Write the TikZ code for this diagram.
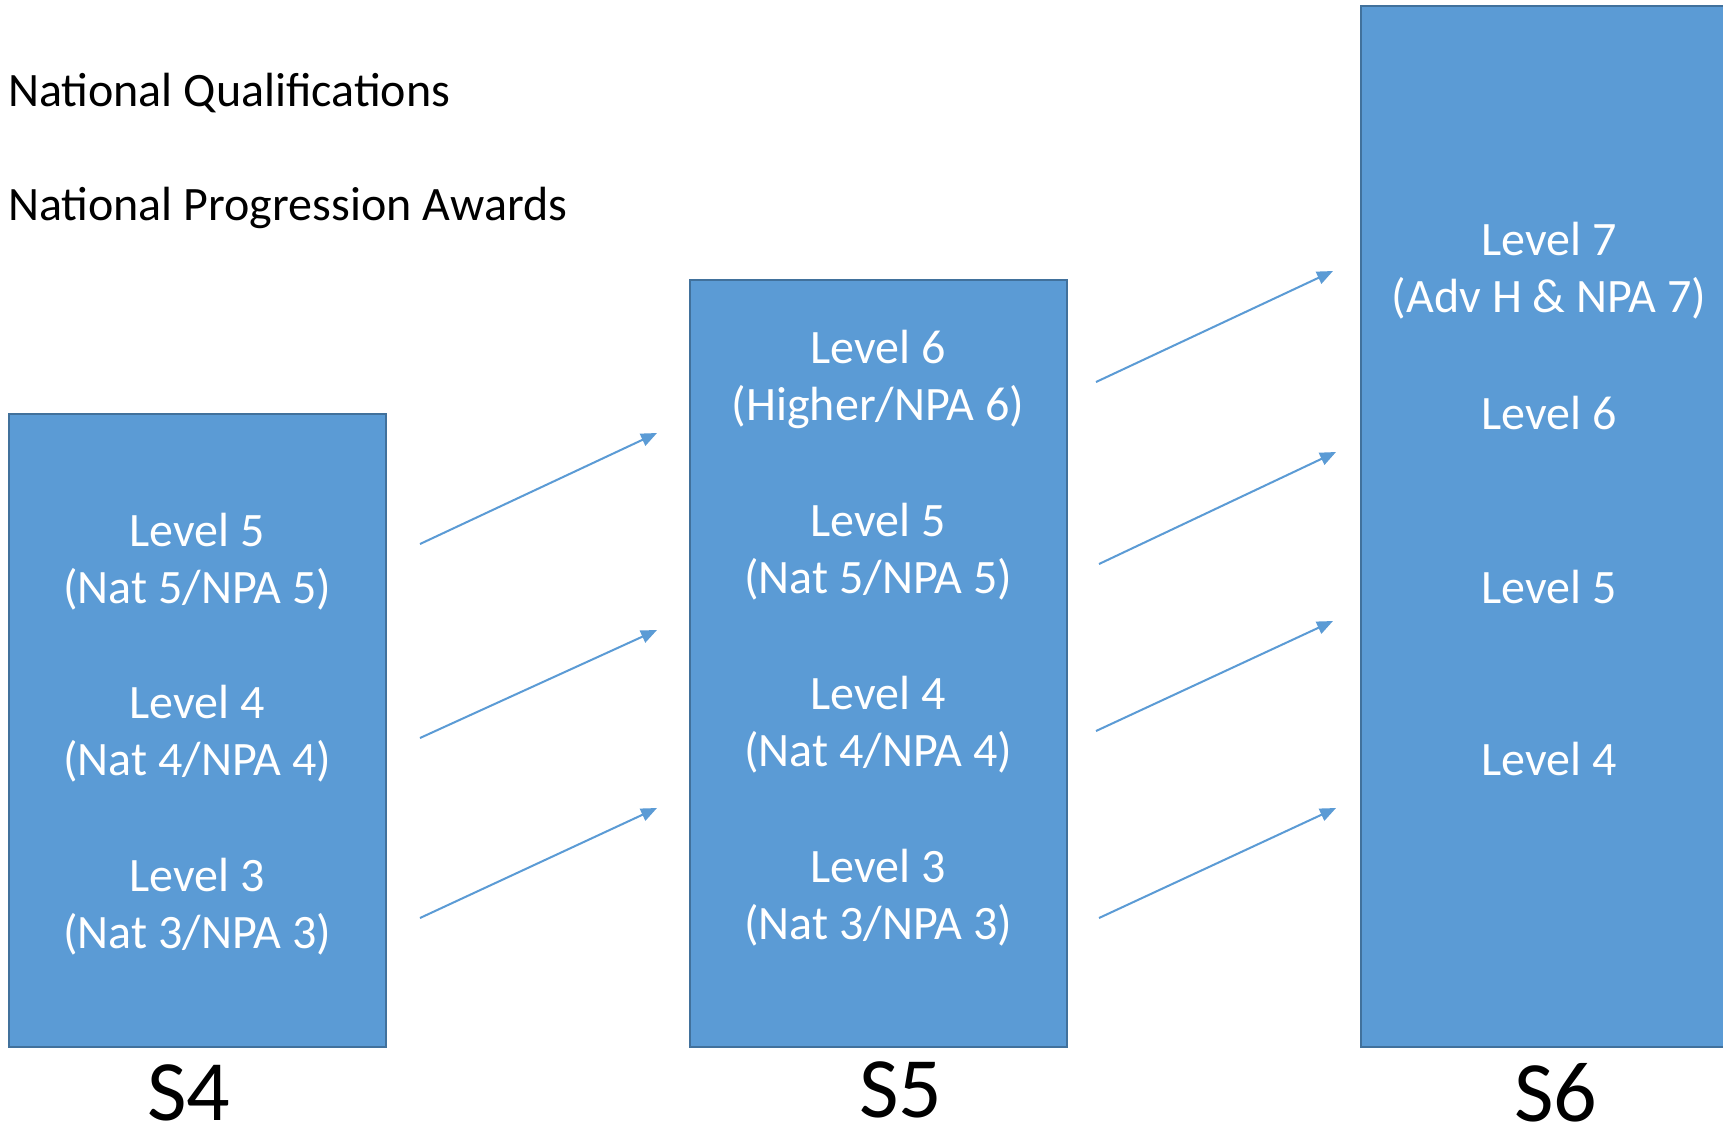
\documentclass[tikz,border=0pt]{standalone}
\usepackage{fontspec}
\setmainfont{Carlito}
\usetikzlibrary{arrows.meta}
\definecolor{boxfill}{HTML}{5B9BD5}
\definecolor{boxline}{HTML}{41719C}
\tikzset{
  yearbox/.style={draw=boxline, line width=2.5pt, fill=boxfill, inner sep=0pt},
  lvl/.style={text=white, align=center, font=\fontsize{48}{57}\selectfont},
  title/.style={anchor=west, font=\fontsize{48}{57}\selectfont, inner sep=0pt},
  yr/.style={font=\fontsize{86}{90}\selectfont, inner sep=0pt},
  prog/.style={draw=boxfill, line width=2pt, -{Triangle[length=16pt,width=13pt]}}
}
\begin{document}
\begin{tikzpicture}[x=1pt,y=-1pt]
\useasboundingbox[fill=white] (0,0) rectangle (1723,1128);
% boxes
\node[yearbox, minimum width=377pt, minimum height=633pt] (s4) at (197.5,730.5) {};
\node[yearbox, minimum width=377pt, minimum height=767pt] (s5) at (878.5,663.5) {};
\node[yearbox, minimum width=390pt, minimum height=1041pt] (s6) at (1556,526.5) {};
% titles
\node[title] (nq) at (8,93) {National Qualifications};
\node[title] (npa) at (8,208) {National Progression Awards};
% S4 levels
\node[lvl] (a5) at (197,562) {Level 5\\(Nat 5/NPA 5)};
\node[lvl] (a4) at (197,734) {Level 4\\(Nat 4/NPA 4)};
\node[lvl] (a3) at (197,907) {Level 3\\(Nat 3/NPA 3)};
% S5 levels
\node[lvl] (b6) at (878,379) {Level 6\\(Higher/NPA 6)};
\node[lvl] (b5) at (878,552) {Level 5\\(Nat 5/NPA 5)};
\node[lvl] (b4) at (878,725) {Level 4\\(Nat 4/NPA 4)};
\node[lvl] (b3) at (878,898) {Level 3\\(Nat 3/NPA 3)};
% S6 levels
\node[lvl] (c7) at (1549,271) {Level 7\\(Adv H \& NPA 7)};
\node[lvl] (c6) at (1549,413) {Level 6};
\node[lvl] (c5) at (1549,587) {Level 5};
\node[lvl] (c4) at (1549,759) {Level 4};
% year labels
\node[yr] (l4) at (189,1093) {S4};
\node[yr] (l5) at (901,1090) {S5};
\node[yr] (l6) at (1556,1093) {S6};
% arrow ends
\coordinate (p1s) at (420,544);  \coordinate (p1e) at (657,433);
\coordinate (p2s) at (420,738);  \coordinate (p2e) at (657,630);
\coordinate (p3s) at (420,918);  \coordinate (p3e) at (657,808);
\coordinate (q1s) at (1096,382); \coordinate (q1e) at (1333,271);
\coordinate (q2s) at (1099,564); \coordinate (q2e) at (1336,452);
\coordinate (q3s) at (1096,731); \coordinate (q3e) at (1333,621);
\coordinate (q4s) at (1099,918); \coordinate (q4e) at (1336,808);
\draw[prog] (p1s) -- (p1e);
\draw[prog] (p2s) -- (p2e);
\draw[prog] (p3s) -- (p3e);
\draw[prog] (q1s) -- (q1e);
\draw[prog] (q2s) -- (q2e);
\draw[prog] (q3s) -- (q3e);
\draw[prog] (q4s) -- (q4e);
\end{tikzpicture}
\end{document}
